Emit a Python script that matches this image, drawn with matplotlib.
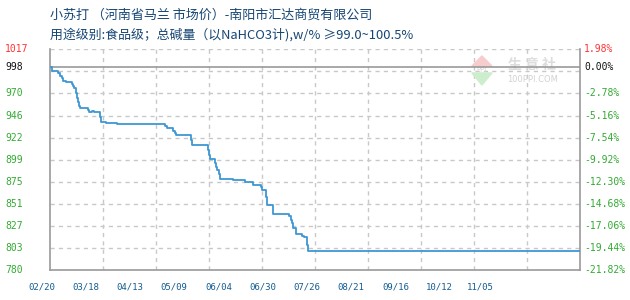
import numpy as np
import matplotlib
matplotlib.use("Agg")
import matplotlib.pyplot as plt
from matplotlib.patches import Polygon

plt.rcParams['font.family'] = ['Noto Sans CJK SC', 'DejaVu Sans']

# price steps: day offset from 02/20 and price (yuan/ton)
step_days = [5.5, 6.1, 10.0, 11.0, 12.0, 12.9, 14.5, 17.9, 18.8, 19.4, 20.2, 20.8,
             21.4, 22.0, 22.7, 27.6, 28.2, 30.0, 31.0, 34.7, 35.0, 37.8, 44.3,
             72.7, 73.7, 77.5, 78.4, 79.0, 87.8, 88.4, 97.8, 98.5, 99.3, 102.0,
             102.6, 103.4, 104.2, 105.2, 112.8, 119.7, 121.6, 124.2, 128.9, 129.5,
             132.0, 132.8, 136.0, 136.3, 145.7, 146.5, 147.3, 148.0, 149.4, 153.0,
             154.3, 156.3, 156.8, 316.5]
step_prices = [997.5, 994.0, 991.2, 988.3, 985.9, 983.3, 981.6, 979.7, 977.9, 975.1,
               969.8, 964.4, 960.1, 956.4, 953.7, 951.8, 949.4, 950.4, 949.4, 944.3,
               938.9, 937.5, 936.5, 935.0, 932.5, 929.6, 926.8, 924.7, 919.6, 913.9,
               908.9, 903.5, 898.9, 894.6, 890.3, 887.4, 882.8, 877.7, 876.7, 875.0,
               874.2, 871.3, 868.6, 865.7, 858.4, 849.8, 844.4, 839.8, 837.7, 833.7,
               830.2, 825.1, 818.4, 816.5, 815.8, 806.8, 800.4, 800.4]

base_price = 997.5
y_min, y_max = 780, 1017
x_min, x_max = 5.1, 316.5

date_days = [0, 26, 52, 78, 104, 130, 156, 182, 208, 234, 258]
date_labels = ['02/20', '03/18', '04/13', '05/09', '06/04', '06/30',
               '07/26', '08/21', '09/16', '10/12', '11/05']

left_labels = ['1017', '998', '970', '946', '922', '899', '875', '851', '827', '803', '780']
right_labels = ['1.98%', '0.00%', '-2.78%', '-5.16%', '-7.54%', '-9.92%',
                '-12.30%', '-14.68%', '-17.06%', '-19.44%', '-21.82%']

title1 = '小苏打 （河南省马兰 市场价）-南阳市汇达商贸有限公司'
title2 = '用途级别:食品级；总碱量（以NaHCO3计),w/% ≥99.0~100.5%'

fig = plt.figure(figsize=(6.3, 3.0), dpi=100)
ax = fig.add_axes([50/630, 30/300, 530/630, 220.7/300])
ax.set_xlim(x_min, x_max)
ax.set_ylim(y_min, y_max)

grid_y = np.linspace(y_min, y_max, 11)
grid_x = np.linspace(x_min, x_max, 11)
for g in grid_y[1:]:
    ax.axhline(g, color='#c8c8c8', lw=1, ls=(0, (3, 3)), zorder=1)
for g in grid_x[1:-1]:
    ax.axvline(g, color='#c8c8c8', lw=1, ls=(0, (3, 3)), zorder=1)

# watermark (sits under the base line)
ax.add_patch(Polygon([[0.796, 0.924], [0.834, 0.924], [0.815, 0.970]], closed=True,
                     transform=ax.transAxes, color='#f7cccc', zorder=1.5))
ax.add_patch(Polygon([[0.796, 0.893], [0.834, 0.893], [0.815, 0.838]], closed=True,
                     transform=ax.transAxes, color='#cdeecd', zorder=1.5))
ax.text(0.815, 0.908, 'PPI', transform=ax.transAxes, ha='center', va='center',
        fontsize=5, color='#d4d4d4', family='DejaVu Sans', zorder=1.5)
ax.text(0.91, 0.93, '生 意 社', transform=ax.transAxes, ha='center', va='center',
        fontsize=10, color='#dddddd', fontweight='bold', zorder=1.5)
ax.text(0.91, 0.862, '100PPI.COM', transform=ax.transAxes, ha='center', va='center',
        fontsize=6, color='#d2d2d2', family='DejaVu Sans', zorder=1.5)

ax.axhline(base_price, color='#999999', lw=1.2, zorder=2)

ax.step(step_days, step_prices, where='post', color='#3d97d3', lw=1.3, zorder=3)

for s in ['left', 'right', 'bottom']:
    ax.spines[s].set_color('#999999')
    ax.spines[s].set_linewidth(1.2)
ax.spines['top'].set_visible(False)
ax.set_xticks([])
ax.set_yticks([])

# y labels: top, base, then gridlines downward
label_pos = [y_max, base_price] + list(grid_y[8::-1])
label_cols = ['#ff3333', '#111111'] + ['#33aa33'] * 9
trans = ax.get_yaxis_transform()
for pos, lt, rt, c in zip(label_pos, left_labels, right_labels, label_cols):
    ax.text(-0.085, pos, lt, transform=trans, ha='left', va='center',
            color=c, fontsize=7, family='DejaVu Sans Mono')
    ax.text(1.0075, pos, rt, transform=trans, ha='left', va='center',
            color=c, fontsize=7, family='DejaVu Sans Mono')

xtrans = ax.get_xaxis_transform()
for d, lab in zip(date_days, date_labels):
    ax.text(d, -0.077, lab, transform=xtrans, ha='center', va='center',
            color='#125c92', fontsize=6.5, family='DejaVu Sans Mono')

fig.text(50/630, 1 - 15/300, title1, ha='left', va='center', fontsize=9.4, color='#164674')
fig.text(50/630, 1 - 35/300, title2, ha='left', va='center', fontsize=9.3, color='#164674')

fig.savefig('out.png', dpi=100)
